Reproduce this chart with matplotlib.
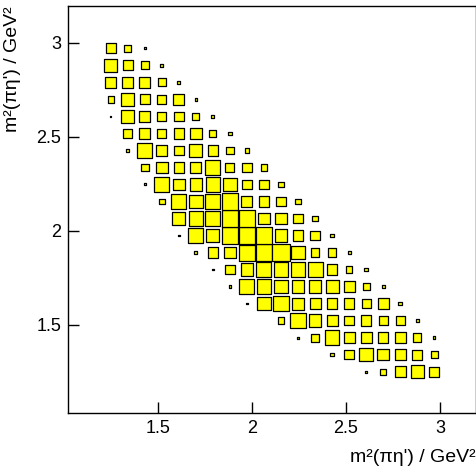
import numpy as np
import matplotlib
matplotlib.use("Agg")
import matplotlib.pyplot as plt
from matplotlib.patches import Rectangle
from matplotlib.collections import PatchCollection

plt.rcParams['font.family'] = ['Liberation Sans', 'DejaVu Sans']

# Dalitz-plot binning: 20 x 20 cells, same binning on both axes
bin_lo = 1.205
bin_width = 0.0905
n_bins = 20

# cell contents, one list per row from the top row (highest y) down;
# row_first_col is the column index of the first entry in each row
row_first_col = [0, 0, 0, 0, 0, 1, 1, 2, 2, 3,
                 4, 4, 5, 6, 7, 8, 10, 11, 13, 15]
row_counts = [
    [60, 40, 12],
    [78, 62, 50, 20],
    [68, 66, 66, 50, 20],
    [38, 76, 62, 54, 66, 14],
    [10, 82, 66, 58, 60, 44, 20],
    [54, 66, 56, 64, 70, 42, 22],
    [20, 88, 68, 60, 80, 64, 48, 28],
    [48, 72, 64, 68, 90, 56, 57, 38],
    [12, 90, 72, 74, 87, 81, 59, 56, 34],
    [36, 92, 82, 92, 102, 67, 65, 60, 34],
    [80, 88, 92, 102, 102, 70, 68, 56, 36],
    [10, 92, 78, 98, 98, 102, 76, 62, 58, 24],
    [16, 63, 70, 98, 102, 104, 84, 52, 50, 20],
    [10, 60, 78, 92, 90, 88, 92, 64, 40, 22],
    [16, 92, 88, 84, 78, 75, 80, 68, 44, 16],
    [10, 84, 96, 74, 67, 62, 65, 57, 66, 22],
    [40, 94, 75, 66, 57, 64, 54, 52, 22],
    [12, 49, 90, 68, 68, 64, 66, 50, 14],
    [22, 58, 84, 72, 68, 61, 39],
    [12, 38, 65, 77, 62],
]

x_label = "m\u00b2(\u03c0\u03b7') / GeV\u00b2"
y_label = "m\u00b2(\u03c0\u03b7') / GeV\u00b2"
ticks = [1.5, 2, 2.5, 3]

# fill the 2D histogram
hist = np.zeros((n_bins, n_bins))
for r, (c0, vals) in enumerate(zip(row_first_col, row_counts)):
    iy = n_bins - 1 - r
    for j, v in enumerate(vals):
        hist[iy, c0 + j] = v

centers = bin_lo + bin_width * (np.arange(n_bins) + 0.5)
vmax = hist.max()

fig = plt.figure(figsize=(4.77, 4.73), dpi=100)
ax = fig.add_axes([0.1426, 0.1268, 0.8553, 0.8605])

boxes = []
for iy in range(n_bins):
    for ix in range(n_bins):
        v = hist[iy, ix]
        if v <= 0:
            continue
        side = bin_width * v / vmax
        boxes.append(Rectangle((centers[ix] - side / 2, centers[iy] - side / 2),
                               side, side))
ax.add_collection(PatchCollection(boxes, facecolor='#ffff00',
                                  edgecolor='black', linewidth=0.9))

ax.set_xlim(1.024, 3.191)
ax.set_ylim(1.030, 3.195)
ax.set_xticks(ticks)
ax.set_yticks(ticks)
ax.set_xticklabels(['1.5', '2', '2.5', '3'])
ax.set_yticklabels(['1.5', '2', '2.5', '3'])
ax.tick_params(direction='in', length=8, width=1, labelsize=13, pad=5)
for s in ax.spines.values():
    s.set_linewidth(1)

ax.set_xlabel(x_label, fontsize=14, loc='right', labelpad=9)
ax.set_ylabel(y_label, fontsize=14, loc='top', labelpad=11)

fig.savefig("out.png", dpi=100)
